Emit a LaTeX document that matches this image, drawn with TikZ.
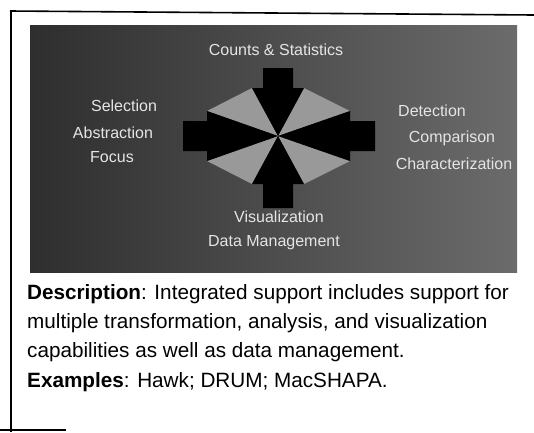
\documentclass[tikz,border=0pt]{standalone}
\usepackage{fontspec}
\setmainfont{Liberation Sans}
\begin{document}
\begin{tikzpicture}[x=1pt,y=-1pt,
    label/.style={text=black!10,font=\fontsize{16}{18}\selectfont,inner sep=1pt},
    bodytext/.style={anchor=base west,inner sep=0pt,font=\fontsize{20.7}{24}\selectfont}]
            \useasboundingbox (0,0) rectangle (534,432);
            
            % Drawing frame
            \draw [line width=1.6pt] (10,11) -- (534,15);%
            \draw [line width=1.6pt] (11,10) -- (11,432);%
            \draw [line width=1.6pt] (0,430) -- (66,430);%
            
            % Drawing panel
            \shade [left color=black!82,right color=black!58] (30,25) rectangle (517,272);%
            
            % Drawing light wedges
            \fill [black!40] (278,136) -- (207,111) -- (252,88) -- cycle;%
            \fill [black!40] (278,136) -- (350,111) -- (304,88) -- cycle;%
            \fill [black!40] (278,136) -- (207,161) -- (252,184) -- cycle;%
            \fill [black!40] (278,136) -- (350,161) -- (304,184) -- cycle;%
            
            % Drawing arrow left
            \fill [black] (183,121) -- (207,121) -- (207,111) -- (278,136) -- (207,161) -- (207,151) -- (183,151) -- cycle;%
            
            % Drawing arrow right
            \fill [black] (375,121) -- (350,121) -- (350,111) -- (278,136) -- (350,161) -- (350,151) -- (375,151) -- cycle;%
            
            % Drawing arrow top
            \fill [black] (263,68) -- (263,88) -- (252,88) -- (278,136) -- (304,88) -- (293,88) -- (293,68) -- cycle;%
            
            % Drawing arrow bottom
            \fill [black] (263,208) -- (263,184) -- (252,184) -- (278,136) -- (304,184) -- (293,184) -- (293,208) -- cycle;%
            
            % Labels
            \node [label] (counts) at (276,50) {Counts \& Statistics};%
            \node [label] (selection) at (124,106) {Selection};%
            \node [label] (abstraction) at (113,133) {Abstraction};%
            \node [label] (focus) at (112,157) {Focus};%
            \node [label] (detection) at (432,111) {Detection};%
            \node [label] (comparison) at (452,138) {Comparison};%
            \node [label] (characterization) at (454,164) {Characterization};%
            \node [label] (visualization) at (279,217) {Visualization};%
            \node [label] (datamgmt) at (274,243) {Data Management};%
            
            % Description
            \node [bodytext] (desc1) at (27,299) {\textbf{Description}: Integrated support includes support for};%
            \node [bodytext] (desc2) at (27,328) {multiple transformation, analysis, and visualization};%
            \node [bodytext] (desc3) at (27,357) {capabilities as well as data management.};%
            \node [bodytext] (examples) at (27,387) {\textbf{Examples}: Hawk; DRUM; MacSHAPA.};%
        \end{tikzpicture}
\end{document}
